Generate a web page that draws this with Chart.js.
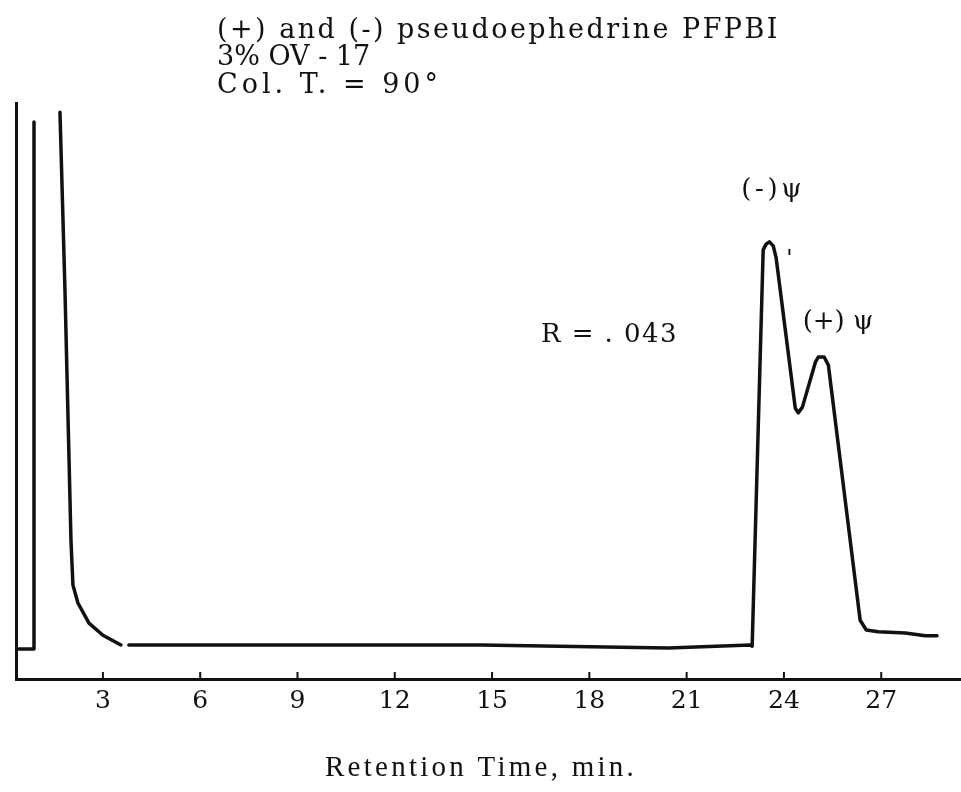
<!DOCTYPE html>
<html>
<head>
<meta charset="utf-8">
<script src="https://cdn.jsdelivr.net/npm/chart.js@4/dist/chart.umd.min.js"></script>
<style>
  html, body { margin: 0; padding: 0; background: #fff; }
  canvas { display: block; }
</style>
</head>
<body>
<canvas id="gc" width="961" height="792"></canvas>
<script>
// Recorder trace: retention time (min) and detector response (% of full scale).
// A null response marks where the pen is off the chart or lifts.
const retentionTime = [
  0.32, 0.875, 0.875, 1.30, 1.676, 1.83, 2.015, 2.076, 2.23, 2.57, 3.00, 3.555,
  3.67, 3.80, 9.10, 14.65, 20.44, 22.96,
  23.02, 23.36, 23.45, 23.55, 23.67, 23.76, 24.35, 24.44, 24.57, 24.97, 25.06,
  25.24, 25.37, 26.35, 26.54, 26.91, 27.74, 28.36, 28.72
];
const response = [
  5.2, 5.2, 96.7, null, 98.4, 67.5, 24.1, 16.3, 13.2, 9.7, 7.6, 5.9,
  null, 5.9, 5.9, 5.9, 5.4, 5.9,
  5.7, 74.5, 75.5, 75.9, 75.2, 73.1, 47.0, 46.2, 47.2, 55.0, 55.9,
  55.9, 54.5, 10.2, 8.5, 8.2, 8.0, 7.5, 7.5
];
const tickValues = [3, 6, 9, 12, 15, 18, 21, 24, 27];

const headerLines = ['(+) and (-) pseudoephedrine PFPBI', '3% OV - 17', 'Col. T. = 90°'];
const axisTitle = 'Retention Time, min.';
// Peak labels: [text, retention time, response]
const peakLabels = [
  ['(-)ψ', 23.67, 84.9],
  ['(+) ψ', 25.61, 62.0],
  ['R = . 043', 18.62, 59.7],
  ['\u02C8', 24.17, 72.4]
];

// Layout and style settings
const HEADER = { x: 217, y: [31, 58, 86], widths: [563, 138, 225], font: '27px "DejaVu Serif"' };
const TITLE = { cx: 481, cy: 768, width: 312, font: '29px "Liberation Serif"' };
const PEAK_FONT = '26px "DejaVu Serif"';
const PEAK_WIDTHS = [64, 67, 137, 0];

// spread a string's letters so it spans the given width (never tighter than normal)
function fitText(ctx, text, targetWidth) {
  ctx.letterSpacing = '0px';
  if (!targetWidth) return;
  const w0 = ctx.measureText(text).width;
  const n = [...text].length;
  const ls = n > 1 ? Math.max(0, (targetWidth - w0) / n) : 0;
  ctx.letterSpacing = ls.toFixed(2) + 'px';
}

const textPlugin = {
  id: 'chartText',
  afterDraw(chart) {
    const ctx = chart.ctx;
    const xs = chart.scales.x, ys = chart.scales.y;
    ctx.save();
    ctx.fillStyle = '#111';
    ctx.textBaseline = 'middle';

    // small tick marks standing up from the time axis
    ctx.strokeStyle = '#111';
    ctx.lineWidth = 2;
    const base = chart.chartArea.bottom;
    tickValues.forEach(v => {
      const px = xs.getPixelForValue(v);
      ctx.beginPath();
      ctx.moveTo(px, base);
      ctx.lineTo(px, base - 7);
      ctx.stroke();
    });

    // header block
    ctx.font = HEADER.font;
    ctx.textAlign = 'left';
    headerLines.forEach((line, i) => {
      fitText(ctx, line, HEADER.widths[i]);
      ctx.fillText(line, HEADER.x, HEADER.y[i]);
    });

    // axis title
    ctx.font = TITLE.font;
    ctx.textAlign = 'left';
    fitText(ctx, axisTitle, TITLE.width);
    ctx.fillText(axisTitle, TITLE.cx - TITLE.width / 2, TITLE.cy);

    // peak labels
    ctx.font = PEAK_FONT;
    peakLabels.forEach(([text, t, r], i) => {
      const px = xs.getPixelForValue(t);
      const py = ys.getPixelForValue(r);
      const w = PEAK_WIDTHS[i];
      if (w) {
        fitText(ctx, text, w);
        ctx.textAlign = 'left';
        ctx.fillText(text, px - w / 2, py);
      } else {
        ctx.letterSpacing = '0px';
        ctx.textAlign = 'center';
        ctx.fillText(text, px, py);
      }
    });
    ctx.restore();
  }
};

new Chart(document.getElementById('gc'), {
  type: 'line',
  data: {
    datasets: [{
      data: retentionTime.map((t, i) => ({ x: t, y: response[i] })),
      borderColor: '#111',
      borderWidth: 3.5,
      borderJoinStyle: 'round',
      borderCapStyle: 'round',
      pointRadius: 0,
      tension: 0,
      spanGaps: false,
      fill: false
    }]
  },
  options: {
    responsive: false,
    animation: false,
    events: [],
    layout: { padding: { top: 103, right: 0, bottom: 0, left: 0 } },
    plugins: { legend: { display: false }, tooltip: { enabled: false } },
    scales: {
      x: {
        type: 'linear',
        min: 0.32,
        max: 29.46,
        afterBuildTicks: s => { s.ticks = tickValues.map(v => ({ value: v })); },
        afterFit: s => { s.height = 113; },
        grid: { display: false, drawTicks: false },
        border: { display: true, color: '#111', width: 3 },
        ticks: {
          padding: 7,
          color: '#111',
          font: { family: '"DejaVu Serif"', size: 25 },
          maxRotation: 0,
          autoSkip: false
        },
        title: { display: false }
      },
      y: {
        min: 0,
        max: 100,
        afterFit: s => { s.width = 16; },
        grid: { display: false, drawTicks: false },
        border: { display: true, color: '#111', width: 3 },
        ticks: { display: false }
      }
    }
  },
  plugins: [textPlugin]
});
</script>
</body>
</html>
